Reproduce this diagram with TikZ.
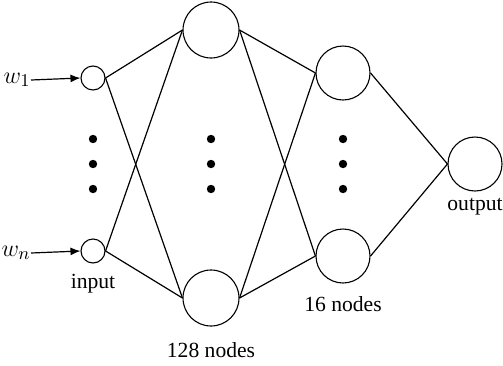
\documentclass[tikz,border=0pt]{standalone}
\usepackage{fontspec}
\setmainfont{Liberation Serif}
\usetikzlibrary{arrows.meta}
\begin{document}
\begin{tikzpicture}[x=0.5pt,y=-0.5pt,
  neuron/.style={circle,draw,line width=0.55pt,inner sep=0pt,minimum size=#1},
  wire/.style={line width=0.6pt},
  feed/.style={wire,-{Latex[length=5pt,width=4pt]}},
  dotmark/.style={circle,fill,inner sep=0pt,minimum size=4.2pt},
  lbl/.style={font=\fontsize{10.8}{13}\selectfont,inner sep=0pt},
  wlbl/.style={font=\fontsize{12.5}{14}\selectfont,inner sep=0pt,anchor=east}]
\useasboundingbox (0,0) rectangle (503,365);

% input layer
\node[neuron=12pt] (i1) at (93,78) {};
\node[neuron=12pt] (in) at (93,251) {};
% first hidden layer (128 nodes)
\node[neuron=28pt] (a1) at (211,30) {};
\node[neuron=28pt] (an) at (211,298) {};
% second hidden layer (16 nodes)
\node[neuron=27pt] (b1) at (343,73) {};
\node[neuron=27pt] (bn) at (343,256) {};
% output layer
\node[neuron=27pt] (o) at (475,164) {};

% ellipsis dots
\foreach \x/\n in {93/i,211/a,343/b}{
  \node[dotmark] (\n d1) at (\x,139) {};
  \node[dotmark] (\n d2) at (\x,164) {};
  \node[dotmark] (\n d3) at (\x,189) {};
}

% inputs
\node[wlbl] (w1) at (31,80) {$w_1$};
\node[wlbl] (wn) at (31,253) {$w_n$};
\draw[feed] (w1.east) -- (i1.west);
\draw[feed] (wn.east) -- (in.west);

% connections
\foreach \s in {i1,in}{\foreach \t in {a1,an}{\draw[wire] (\s.east) -- (\t.west);}}
\foreach \s in {a1,an}{\foreach \t in {b1,bn}{\draw[wire] (\s.east) -- (\t.west);}}
\foreach \s in {b1,bn}{\draw[wire] (\s.east) -- (o.west);}

% labels
\node[lbl] (lin) at (93,284) {input};
\node[lbl] (lb) at (343,304) {16 nodes};
\node[lbl] (la) at (211,350) {128 nodes};
\node[lbl] (lo) at (475,207) {output};
\end{tikzpicture}
\end{document}
